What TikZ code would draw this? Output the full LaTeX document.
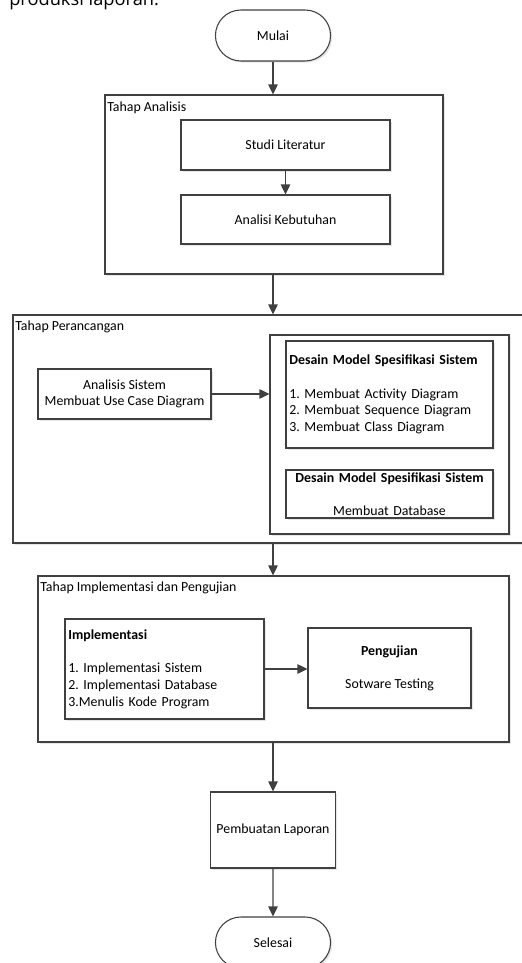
\documentclass[tikz,border=0pt]{standalone}
\usepackage{fontspec}
\setmainfont{Carlito}
\newfontfamily\headfont{Open Sans}
\usepackage{tikz}
\usetikzlibrary{arrows.meta,positioning,shapes.misc,fit,shadows}
\definecolor{edge}{HTML}{404040}
\definecolor{ghost}{HTML}{E6E6E6}
\frenchspacing

\begin{document}
\begin{tikzpicture}[
  x=0.75pt, y=-0.75pt,
  font=\fontsize{10.4}{12.5}\selectfont,
  lift/.style={drop shadow={shadow xshift=1.3pt, shadow yshift=-1.3pt, fill=ghost, opacity=1}},
  terminal/.style={rounded rectangle, draw=edge, line width=0.8pt, fill=white, lift, minimum width=93pt, minimum height=38.25pt},
  box/.style={rectangle, draw=edge, line width=0.8pt, fill=white, lift, align=center},
  listbox/.style={box, align=left, inner xsep=2.5pt},
  group/.style={rectangle, draw=edge, line width=0.8pt, fill=white, lift, inner sep=0pt},
  tag/.style={anchor=west, inner sep=0pt},
  arrow/.style={-{Triangle[length=7.5pt, width=7pt]}, line width=1.1pt, draw=edge}
]
\useasboundingbox (0,0) rectangle (521,963);

\node[anchor=base west, inner sep=0pt, font=\headfont\fontsize{13.7}{16}\selectfont] (head) at (9,6) {produksi laporan.};

\node[terminal] (mulai) at (273,35.5) {Mulai};

\node[group, fit={(105,95) (443,274)}] (ana) {};
\node[tag] (anatag) at (107,108) {Tahap Analisis};
\node[box, minimum width=156.75pt, minimum height=37.5pt] (studi) at (285.5,145) {Studi Literatur};
\node[box, minimum width=156.75pt, minimum height=36.75pt] (butuh) at (285.5,219.5) {Analisi Kebutuhan};

\node[group, fit={(13,315) (540,543)}] (rancang) {};
\node[tag] (rancangtag) at (15,327) {Tahap Perancangan};
\node[box, minimum width=129.75pt, minimum height=37.5pt] (sistem) at (124.5,394) {Analisis Sistem\\Membuat Use Case Diagram};
\node[group, fit={(270,335) (509,534)}] (desain) {};
\node[listbox, text width=150.25pt, minimum height=80.25pt] (model) at (389.5,394.5) {\textbf{Desain Model Spesifikasi Sistem}\\[12.5pt]1. Membuat Activity Diagram\\2. Membuat Sequence Diagram\\3. Membuat Class Diagram};
\node[box, text width=150.25pt, inner xsep=2.5pt, inner ysep=0.5pt, minimum height=36pt] (basis) at (389.5,494) {\textbf{Desain Model Spesifikasi Sistem}\\[12.5pt]Membuat Database};

\node[group, fit={(38,576) (509,742)}] (uji) {};
\node[tag] (ujitag) at (40,588) {Tahap Implementasi dan Pengujian};
\node[listbox, text width=144.25pt, minimum height=75pt] (impl) at (164.5,669) {\textbf{Implementasi}\\[12.5pt]1. Implementasi Sistem\\2. Implementasi Database\\3.Menulis Kode Program};
\node[box, minimum width=122.25pt, minimum height=60pt] (tes) at (389.5,668) {\textbf{Pengujian}\\[12.5pt]Sotware Testing};

\node[box, minimum width=93.75pt, minimum height=57pt] (lapor) at (273,830) {Pembuatan Laporan};
\node[terminal] (selesai) at (273,942.5) {Selesai};

\draw[arrow] (mulai.south) -- (mulai.south |- ana.north);
\draw[arrow] (studi) -- (butuh);
\draw[arrow] (mulai.south |- ana.south) -- (mulai.south |- rancang.north);
\draw[arrow] (sistem) -- (sistem -| desain.west);
\draw[arrow] (mulai.south |- rancang.south) -- (mulai.south |- uji.north);
\draw[arrow] (impl) -- (impl -| tes.west);
\draw[arrow] (mulai.south |- uji.south) -- (lapor);
\draw[arrow] (lapor) -- (selesai);
\end{tikzpicture}
\end{document}
